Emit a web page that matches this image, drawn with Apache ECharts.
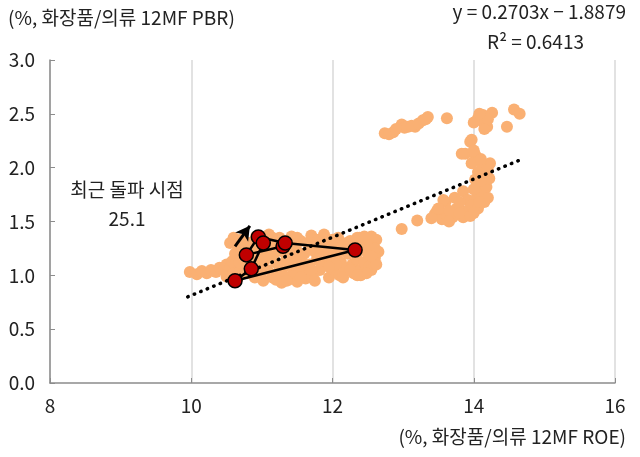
<!DOCTYPE html>
<html>
<head>
<meta charset="utf-8">
<script src="https://cdn.jsdelivr.net/npm/echarts@6/dist/echarts.min.js"></script>
<style>
  html, body { margin: 0; padding: 0; background: #fff; }
  #chart { width: 640px; height: 457px; }
</style>
</head>
<body>
<div id="chart"></div>
<script>
// 화장품/의류 12MF ROE(x) vs 12MF PBR(y)
var pastPoints = [
  [9.98,1.03],[10.08,1.01],[10.15,1.04],[10.22,1.02],[10.28,1.05],[10.35,1.03],[10.4,1.07],[10.46,1.05],
  [10.5,1.1],[10.55,1.07],[10.58,1.13],[10.62,1.1],[10.5,0.99],[10.6,1.02],[10.66,0.98],[10.7,1.05],
  [10.55,1.3],[10.6,1.35],
  [10.62,1.2],[10.65,1.28],[10.7,1.33],[10.72,1.16],[10.75,1.08],[10.78,1.25],[10.8,1.02],[10.82,1.3],
  [10.85,1.15],[10.88,1.22],[10.9,0.98],[10.92,1.36],[10.95,1.1],[10.98,1.18],[11.0,1.25],[11.02,0.95],
  [11.05,1.33],[11.08,1.05],[11.1,1.38],[11.12,1.2],[11.15,0.98],[11.18,1.28],[11.2,1.12],[11.22,1.02],
  [11.25,1.35],[11.28,0.93],[11.3,1.22],[11.32,1.08],[11.35,1.3],[11.38,0.96],[11.4,1.17],[11.42,1.36],
  [11.45,1.02],[11.48,1.25],[11.5,0.94],[11.52,1.12],[11.55,1.32],[11.58,1.05],[11.6,1.2],[11.62,0.97],
  [11.65,1.3],[11.68,1.1],[11.7,1.37],[11.72,1.0],[11.75,1.22],[11.78,1.15],[11.8,1.33],[11.82,1.05],
  [11.85,1.25],[11.88,1.38],[11.9,1.1],[11.92,1.2],[11.95,0.98],[11.98,1.3],[12.0,1.15],[12.02,1.05],
  [12.05,1.25],[12.08,1.35],[12.1,1.0],[12.12,1.12],[12.15,1.28],[12.18,1.06],
  [10.68,1.12],[10.75,1.3],[10.88,1.08],[10.95,1.3],[11.05,1.15],[11.1,1.25],[11.15,1.35],[11.2,1.22],
  [11.25,1.08],[11.3,1.0],[11.35,1.15],[11.4,1.28],[11.45,1.1],[11.5,1.35],[11.55,1.2],[11.6,1.1],
  [11.65,1.0],[11.7,1.25],[11.75,0.95],[11.8,1.15],[11.85,1.08],[11.9,1.3],[11.95,1.22],[12.0,1.33],
  [12.05,1.1],[12.1,1.22],[12.15,0.98],[11.55,0.98],[11.35,0.95],[10.98,1.02],[11.2,0.96],[11.7,1.05],
  [11.95,1.08],
  [12.22,1.2],[12.25,1.32],[12.28,1.1],[12.3,1.02],[12.32,1.28],[12.35,1.15],[12.38,1.35],[12.4,1.05],
  [12.42,1.24],[12.45,1.12],[12.48,1.3],[12.5,1.2],[12.52,1.08],[12.55,1.36],[12.58,1.27],[12.6,1.16],
  [12.62,1.33],[12.65,1.22],[12.4,1.0],[12.55,1.05],[12.2,1.3],[12.25,1.05],[12.3,1.22],[12.35,1.35],
  [12.45,1.36],[12.5,1.28],[12.6,1.25],[12.62,1.1],[12.55,1.18],[12.48,1.02],[12.35,1.0],
  [12.98,1.43],[13.2,1.51],[13.45,1.57],[13.48,1.6],[13.55,1.52],[13.6,1.68],[13.62,1.56],[13.7,1.54],
  [13.73,1.72],[13.76,1.62],[13.85,1.54],[13.9,1.6],[13.85,1.78],[13.57,1.7],
  [13.5,1.62],[13.65,1.6],[13.8,1.58],[13.95,1.55],[13.92,1.7],[13.8,1.68],[13.65,1.5],[13.4,1.53],
  [13.95,2.24],[13.88,2.13],[14.02,2.12],[13.97,2.04],[14.12,2.02],[14.23,2.04],[14.06,1.96],[14.16,1.93],
  [14.02,1.89],[14.12,1.84],[14.05,1.77],[14.13,1.77],[14.02,1.7],[14.09,1.75],[13.97,1.65],[14.06,1.62],
  [14.0,1.58],[14.15,1.68],[14.2,1.72],[14.18,1.82],[14.22,1.9],[13.97,2.26],[14.1,1.88],[14.0,1.8],
  [13.83,2.13],[14.08,1.68],[14.2,1.98],[14.1,2.08],[14.0,2.16],
  [12.74,2.32],[12.86,2.33],[12.98,2.4],[13.07,2.38],[13.17,2.38],[13.28,2.44],[13.35,2.47],[13.62,2.46],
  [14.06,2.46],[14.13,2.49],[14.26,2.51],[14.16,2.41],[14.19,2.38],[14.47,2.38],[14.57,2.54],[14.65,2.5],
  [12.8,2.31],[13.02,2.37],[14.1,2.44],[14.2,2.45],[12.9,2.36],[13.12,2.39],[13.22,2.41],[13.32,2.45],
  [14.0,2.42],[14.15,2.36],[14.08,2.5]
];

// 최근 경로 (빨간 점)
var recent = [
  [11.30,1.27],[10.78,1.19],[10.95,1.356],[11.33,1.30],[12.32,1.235],[10.62,0.95],[10.85,1.06],[11.02,1.30]
];

// 추세선 y = 0.2703x - 1.8879
var trendX = [9.95, 14.65];
var trendY = [0.80, 2.07];

var arrowFrom = [10.62, 1.27];
var arrowTo = [10.83, 1.46];

var xTicks = [8, 10, 12, 14, 16];
var yTicks = [0, 0.5, 1.0, 1.5, 2.0, 2.5, 3.0];

var font = '"Noto Sans CJK KR", "Noto Sans", sans-serif';
var textColor = '#222';
var fs = 19;

var chart = echarts.init(document.getElementById('chart'));
var option = {
  animation: false,
  grid: { left: 50, right: 25, top: 60, bottom: 74 },
  xAxis: {
    type: 'value',
    min: xTicks[0], max: xTicks[xTicks.length - 1], interval: 2,
    axisLine: { lineStyle: { color: '#8c8c8c', width: 1.5 } },
    axisTick: { inside: true, length: 5, lineStyle: { color: '#8c8c8c' } },
    axisLabel: { color: textColor, fontSize: fs, fontFamily: font, margin: 13 },
    splitLine: { show: true, lineStyle: { color: '#d9d9d9', width: 1.5 } }
  },
  yAxis: {
    type: 'value',
    min: yTicks[0], max: yTicks[yTicks.length - 1], interval: 0.5,
    axisLine: { show: true, lineStyle: { color: '#8c8c8c', width: 1.5 } },
    axisTick: { show: true, inside: true, length: 5, lineStyle: { color: '#8c8c8c' } },
    axisLabel: {
      color: textColor, fontSize: fs, fontFamily: font, margin: 15,
      formatter: function (v) { return v.toFixed(1); }
    },
    splitLine: { show: false }
  },
  graphic: [
    { type: 'text', left: 8, top: 8, style: { text: '(%, 화장품/의류 12MF PBR)', font: fs + 'px ' + font, fill: textColor } },
    { type: 'text', right: 14, top: 2, style: { text: 'y = 0.2703x − 1.8879', font: fs + 'px ' + font, fill: textColor } },
    { type: 'text', right: 56, top: 32, style: { text: 'R² = 0.6413', font: fs + 'px ' + font, fill: textColor } },
    { type: 'text', right: 14, top: 427, style: { text: '(%, 화장품/의류 12MF ROE)', font: fs + 'px ' + font, fill: textColor } },
    { type: 'text', x: 127, y: 190, style: { text: '최근 돌파 시점', font: fs + 'px ' + font, fill: textColor, textAlign: 'center', textVerticalAlign: 'middle' } },
    { type: 'text', x: 127, y: 219, style: { text: '25.1', font: fs + 'px ' + font, fill: textColor, textAlign: 'center', textVerticalAlign: 'middle' } }
  ],
  series: [
    {
      type: 'scatter',
      data: pastPoints,
      symbolSize: 12,
      itemStyle: { color: '#FAB073', opacity: 1 },
      z: 2
    },
    {
      type: 'line',
      data: trendX.map(function (x, i) { return [x, trendY[i]]; }),
      symbol: 'none',
      lineStyle: { color: '#000', width: 3.5, type: [0.5, 6.5], cap: 'round' },
      z: 3
    },
    {
      type: 'line',
      data: recent,
      symbol: 'circle',
      symbolSize: 14,
      itemStyle: { color: '#C00000', borderColor: '#000', borderWidth: 1.5 },
      lineStyle: { color: '#000', width: 2.5 },
      z: 4,
      markLine: {
        silent: true,
        symbol: ['none', 'arrow'],
        symbolSize: [12, 14],
        label: { show: false },
        lineStyle: { color: '#000', width: 3, type: 'solid' },
        data: [[{ coord: arrowFrom }, { coord: arrowTo }]]
      }
    }
  ]
};
chart.setOption(option);
window.addEventListener('resize', function () { chart.resize(); });
</script>
</body>
</html>
